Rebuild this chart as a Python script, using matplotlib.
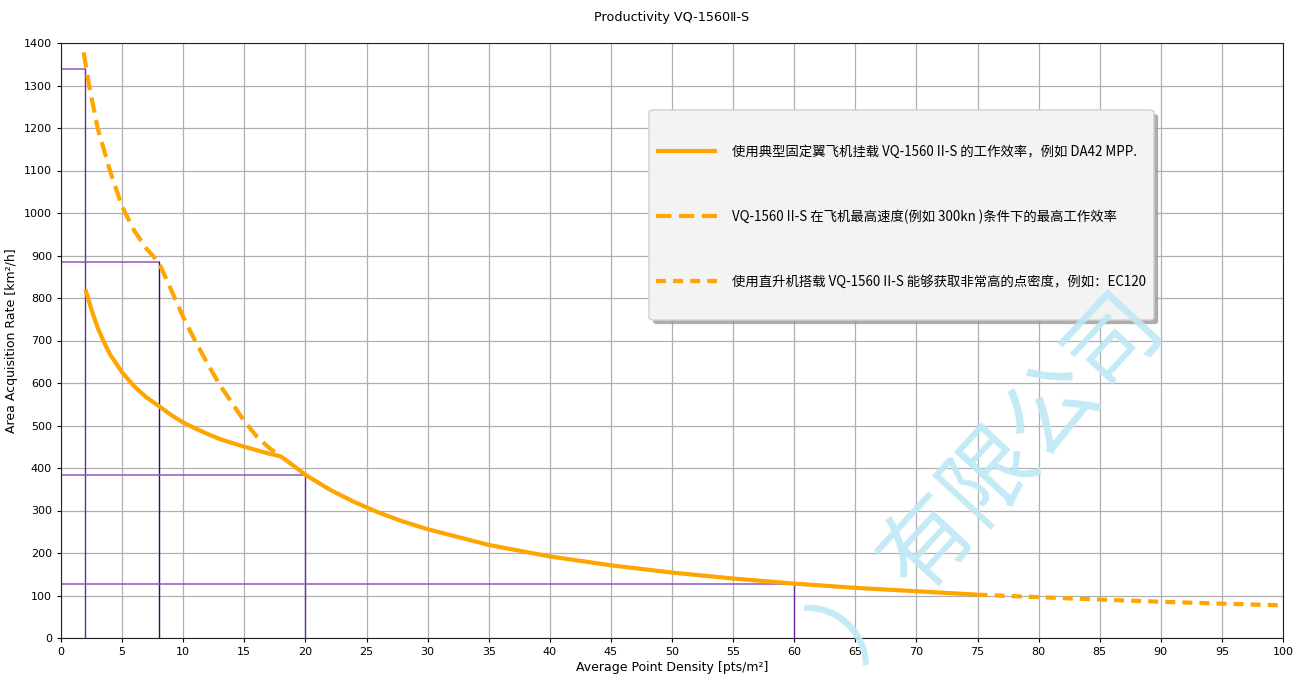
import matplotlib
matplotlib.use("Agg")
import matplotlib.pyplot as plt
from matplotlib.patches import FancyBboxPatch
import matplotlib.patheffects as pe

# ---- data ----
fixed_x = [2, 2.5, 3, 3.5, 4, 5, 6, 7, 8, 9, 10, 11, 12, 13, 14, 15, 16, 17, 18,
           19, 20, 22, 24, 26, 28, 30, 35, 40, 45, 50, 55, 60, 65, 70, 75]
fixed_y = [820, 772, 730, 697, 668, 625, 592, 566, 546, 525, 507, 493, 480, 468,
           459, 450, 442, 434, 427, 406, 384, 349, 320, 295, 274, 256, 219, 192,
           171, 154, 140, 128, 118, 110, 102]

max_x = [1.85, 2.3, 3, 4, 5, 6, 7, 8, 9, 10, 11, 12, 13, 14, 15, 16, 17, 18]
max_y = [1378, 1300, 1200, 1100, 1015, 958, 916, 884, 820, 755, 698, 645, 595,
         553, 510, 475, 448, 427]

heli_x = [75, 80, 85, 90, 95, 100]
heli_y = [102, 96, 90.4, 85.3, 80.8, 76.8]

ref_x = [2, 8, 20, 60]
ref_y = [1340, 884, 384, 128]

labels = [
    "使用典型固定翼飞机挂载 VQ-1560 II-S 的工作效率，例如 DA42 MPP.",
    "VQ-1560 II-S 在飞机最高速度(例如 300kn )条件下的最高工作效率",
    "使用直升机搭载 VQ-1560 II-S 能够获取非常高的点密度，例如：EC120",
]
title = "Productivity VQ-1560Ⅱ-S"
xlabel = "Average Point Density [pts/m²]"
ylabel = "Area Acquisition Rate [km²/h]"
watermark = "）有限公司"

# ---- figure ----
fig = plt.figure(figsize=(13.06, 6.77), dpi=100)
ax = fig.add_axes([61/1306, 1-638/677, (1283-61)/1306, (638-43)/677])

ax.set_xlim(0, 100)
ax.set_ylim(0, 1400)
ax.set_xticks(range(0, 101, 5))
ax.set_yticks(range(0, 1401, 100))
ax.tick_params(labelsize=8, length=3)
ax.grid(True, color="#b0b0b0", lw=0.9)
ax.set_axisbelow(True)

# reference lines
v_colors = ["#6a2ca0", "#3a0a6a", "#6a2ca0", "#6a2ca0"]
for i, (rx, ry) in enumerate(zip(ref_x, ref_y)):
    ax.plot([0, rx], [ry, ry], color="#8a58bd", lw=1.1, zorder=2)
    ax.plot([rx, rx], [0, ry], color=v_colors[i], lw=1.0, zorder=2)

orange = "#ffa500"
l1, = ax.plot(fixed_x, fixed_y, color=orange, lw=3, solid_capstyle="butt",
              solid_joinstyle="round", zorder=3)
l2, = ax.plot(max_x, max_y, color=orange, lw=3, linestyle=(0, (3.7, 1.8)), zorder=3)
l3, = ax.plot(heli_x, heli_y, color=orange, lw=3, linestyle=(0, (2.4, 1.7)), zorder=3)

for s in ax.spines.values():
    s.set_color("#222222")

ax.set_title(title, fontsize=9.2, pad=15.5)
ax.set_xlabel(xlabel, fontsize=9, labelpad=3)
ax.set_ylabel(ylabel, fontsize=9)

# legend background box
x0 = (649-61)/1222
x1 = (1154-61)/1222
y1 = (638-110)/595
y0 = (638-320)/595
box = FancyBboxPatch((x0, y0), x1-x0, y1-y0, transform=ax.transAxes,
                     boxstyle="round,pad=0,rounding_size=0.004",
                     facecolor="#f3f3f3", edgecolor="#d0d0d0", lw=1, zorder=5,
                     path_effects=[pe.withSimplePatchShadow(offset=(3, -3), shadow_rgbFace="#999999", alpha=0.8)])
ax.add_patch(box)

leg = ax.legend([l1, l2, l3], labels, loc="center left",
                bbox_to_anchor=((645-61)/1222, (y0+y1)/2 - 0.003), bbox_transform=ax.transAxes,
                frameon=False, handlelength=4.6, handletextpad=1.1,
                labelspacing=3.8, borderpad=0.3,
                prop={"family": ["Noto Sans CJK SC", "DejaVu Sans"], "size": 9.6})
leg.set_zorder(6)

# watermark
fig.text(992/1306, 1-476/677, watermark, rotation=47.2, rotation_mode="anchor",
         ha="center", va="center", fontsize=66, color="#bde8f5", alpha=0.9,
         family=["Noto Sans CJK SC", "DejaVu Sans"], zorder=20)

fig.savefig("out.png", dpi=100)
